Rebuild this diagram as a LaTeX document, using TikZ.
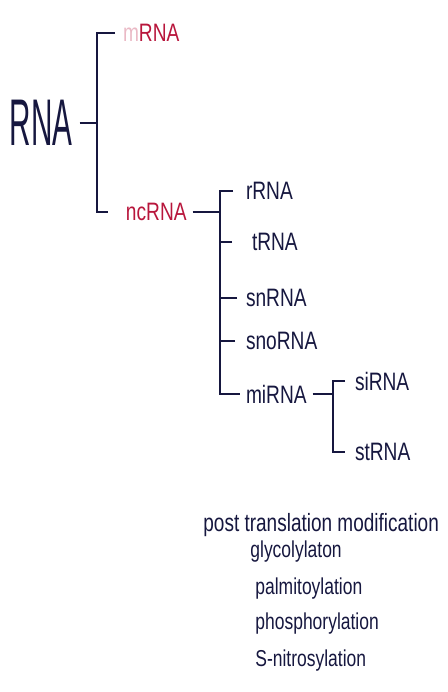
\documentclass[tikz,border=0pt]{standalone}
\usepackage{fontspec}
\usepackage{tikz}
\usetikzlibrary{positioning,calc}
\newfontfamily\handbig[FakeStretch=0.45]{Liberation Sans}
\newfontfamily\hand[FakeStretch=0.76]{Liberation Sans}
\definecolor{cInk}{HTML}{16173F}
\definecolor{cRed}{HTML}{B8163C}
\tikzset{
  root/.style ={anchor=west, inner sep=0pt, outer xsep=3.5pt, text=cInk,
                font=\handbig\fontsize{33}{33}\selectfont},
  lab/.style  ={anchor=west, inner sep=0pt, outer xsep=2.5pt, text=cInk,
                font=\hand\fontsize{12.6}{13}\selectfont},
  labr/.style ={lab, text=cRed},
  ptm/.style  ={anchor=base west, inner sep=0pt, text=cInk,
                font=\hand\fontsize{11.5}{12}\selectfont},
  br/.style   ={draw=cInk, line width=1.35pt},
}
\begin{document}
\begin{tikzpicture}[x=0.5pt,y=-0.5pt]
  \useasboundingbox (0,0) rectangle (448,692);
  % first level
  \node[root] (rna) at (3,123) {RNA};
  \node[labr,outer xsep=4pt] (mrna) at (115,33) {{\color{cRed!30}m}RNA};
  \node[labr,outer xsep=9pt] (ncrna) at (108,212) {ncRNA};
  \coordinate (b1) at (97,123);
  \draw[br](rna)--(b1);
  \draw[br](mrna)-|(b1)|-(ncrna);
  % ncRNA
  \node[lab,outer xsep=6.5pt] (rrna) at (233,191) {rRNA};
  \node[lab,outer xsep=10pt] (trna) at (232,242) {tRNA};
  \node[lab,outer xsep=4.5pt] (snrna) at (237,298) {snRNA};
  \node[lab,outer xsep=5.5pt] (snorna) at (235,341) {snoRNA};
  \node[lab,outer xsep=3pt] (mirna) at (240,394) {miRNA};
  \coordinate (b2) at (220,212);
  \draw[br,shorten <=-6pt](ncrna)--(b2);
  \draw[br](rrna)-|(b2)|-(mirna);
  \draw[br](trna)--(trna-|b2);\draw[br](snrna)--(snrna-|b2);\draw[br](snorna)--(snorna-|b2);
  % miRNA
  \node[lab,outer xsep=5pt] (sirna) at (345,381) {siRNA};
  \node[lab,outer xsep=5pt] (strna) at (345,452) {stRNA};
  \coordinate (b3) at (333,394);
  \draw[br](mirna)--(b3);
  \draw[br](sirna)-|(b3)|-(strna);
  % modifications
  \node[ptm,font=\hand\fontsize{12.5}{13}\selectfont] (post) at (203,531) {post translation modification};
  \node[ptm] (glyc) at (250,557) {glycolylaton};
  \node[ptm] (palm) at (255,594) {palmitoylation};
  \node[ptm] (phos) at (255,629) {phosphorylation};
  \node[ptm] (nitr) at (255,666) {S-nitrosylation};
\end{tikzpicture}
\end{document}
